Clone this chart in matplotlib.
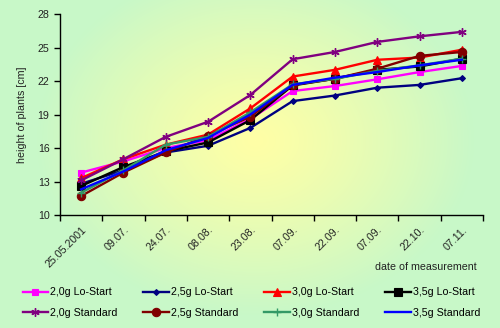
import numpy as np
import matplotlib
matplotlib.use("Agg")
import matplotlib.pyplot as plt
from matplotlib.colors import to_rgb

plt.rcParams['font.family'] = ['Liberation Sans', 'DejaVu Sans']

dates = ["25.05.2001", "09.07.", "24.07.", "08.08.", "23.08.", "07.09.",
         "22.09.", "07.09.", "22.10.", "07.11."]

lo20 = [13.8, 14.8, 16.0, 16.7, 18.6, 21.1, 21.55, 22.15, 22.8, 23.35]
lo25 = [12.8, 14.0, 15.6, 16.2, 17.8, 20.2, 20.7, 21.4, 21.65, 22.25]
lo30 = [13.3, 15.0, 16.3, 17.2, 19.55, 22.4, 23.0, 23.9, 24.1, 24.8]
lo35 = [12.6, 14.3, 15.7, 16.5, 18.5, 21.6, 22.2, 23.0, 23.3, 24.0]
st20 = [13.1, 15.0, 17.0, 18.35, 20.75, 23.95, 24.6, 25.5, 26.0, 26.4]
st25 = [11.7, 13.8, 15.6, 17.1, 18.8, 21.65, 22.2, 23.1, 24.25, 24.6]
st30 = [12.0, 14.0, 16.3, 17.0, 19.2, 21.7, 22.2, 22.9, 23.4, 24.0]
st35 = [12.3, 13.9, 15.8, 16.9, 19.0, 21.65, 22.3, 22.8, 23.4, 23.9]

series = [
    ("2,0g Lo-Start", lo20, "#ff00ff", "s", 4),
    ("2,5g Lo-Start", lo25, "#000080", "D", 3),
    ("3,0g Lo-Start", lo30, "#ff0000", "^", 6),
    ("3,5g Lo-Start", lo35, "#000000", "s", 6),
    ("2,0g Standard", st20, "#800080", (6, 2, 0), 6),
    ("2,5g Standard", st25, "#800000", "o", 6),
    ("3,0g Standard", st30, "#339966", "+", 6),
    ("3,5g Standard", st35, "#0000ff", None, 0),
]

FS = 7.7
W, H = 500, 328
fig = plt.figure(figsize=(W / 100, H / 100), dpi=100)

# background radial gradient
bg = fig.add_axes([0, 0, 1, 1])
bg.set_axis_off()
yy, xx = np.mgrid[0:H, 0:W]
cx, cy = 255, 140
r = np.sqrt(((xx - cx) / 1.25) ** 2 + ((yy - cy) / 1.0) ** 2)
t = np.clip(r / 175.0, 0, 1) ** 1.2
c_in = np.array(to_rgb("#ffffa6"))
c_out = np.array(to_rgb("#c8f8c8"))
img = c_in[None, None, :] * (1 - t[..., None]) + c_out[None, None, :] * t[..., None]
bg.imshow(img, aspect='auto', extent=[0, 1, 0, 1], origin='upper')
bg.set_xlim(0, 1)
bg.set_ylim(0, 1)

ax = fig.add_axes([60 / W, 1 - 215 / H, (483 - 60) / W, (215 - 14) / H])
ax.patch.set_alpha(0)

x = np.arange(len(dates))
handles = []
for name, vals, col, mk, ms in series:
    h, = ax.plot(x, vals, color=col, lw=1.7, marker=mk, ms=ms,
                 markeredgewidth=1.0 if mk in ("+", (6, 2, 0)) else 0.8,
                 markeredgecolor=col, markerfacecolor=col, label=name)
    handles.append(h)

ax.set_xlim(-0.5, len(dates) - 0.5)
ax.set_ylim(10, 28)
ax.set_yticks([10, 13, 16, 19, 22, 25, 28])
ax.set_xticks(np.arange(-0.5, len(dates), 1.0), minor=False)
ax.set_xticklabels([])
ax.set_xticks(x, minor=True)
ax.set_xticklabels(dates, minor=True, rotation=45, ha='right',
                   rotation_mode='anchor', fontsize=FS, color='#222222')
ax.tick_params(axis='x', which='minor', length=0, pad=7)
ax.tick_params(axis='x', which='major', length=4, width=1, direction='out')
ax.tick_params(axis='y', length=4, width=1, labelsize=FS, labelcolor='#222222')
for s in ('top', 'right'):
    ax.spines[s].set_visible(False)
for s in ('left', 'bottom'):
    ax.spines[s].set_linewidth(1)

ax.set_ylabel("height of plants [cm]", fontsize=FS, color='#222222', labelpad=8)
fig.text(477 / W, 1 - 267 / H, "date of measurement", ha='right', va='center',
         fontsize=FS, color='#222222')

order = [0, 4, 1, 5, 2, 6, 3, 7]
leg = fig.legend([handles[i] for i in order], [series[i][0] for i in order],
                 ncol=4, loc='center', bbox_to_anchor=(251.5 / W, 1 - 302.5 / H),
                 frameon=False, fontsize=FS, handlelength=2.4,
                 columnspacing=2.4, handletextpad=0.2, labelspacing=0.95,
                 borderpad=0)

fig.savefig("out.png", dpi=100)
